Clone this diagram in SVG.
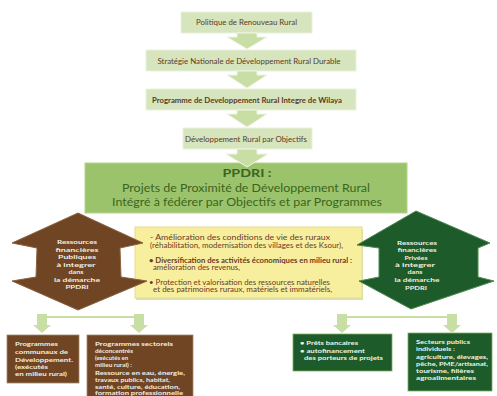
<svg xmlns="http://www.w3.org/2000/svg" width="497" height="396" viewBox="0 0 497 396">
<defs>
<style>
text{font-family:Lato,"Liberation Sans",sans-serif}
.tb{fill:#d6e5bd;stroke:#e9f1dc;stroke-width:1}
.tt{font-size:7.5px;fill:#5b3a1e;text-anchor:middle}
.arr{fill:#c8dea5;stroke:#eef5e4;stroke-width:1}
.br{fill:#c8dea5;stroke:none}
.ln{stroke:#c8dea5;stroke-width:2;fill:none}
.pp{font-size:11.5px;fill:#3b6520;text-anchor:middle}
.yt{font-size:6.8px;fill:#6b3a1f}
.st{font-size:6.4px;font-weight:bold;fill:#f4ede2;text-anchor:middle}
.bt{font-size:6.3px;font-weight:bold;fill:#f4ede2}
.gt{font-size:6.3px;font-weight:bold;fill:#eef6e8}
</style>
</defs>
<rect width="497" height="396" fill="#ffffff"/>

<g id="box1">
<rect class="tb" x="181" y="12" width="131" height="21"/>
<text class="tt" x="246.5" y="25" textLength="101" lengthAdjust="spacingAndGlyphs">Politique de Renouveau Rural</text>
</g>
<g id="box2">
<rect class="tb" x="146" y="50" width="210" height="21"/>
<text class="tt" x="249" y="64" textLength="183" lengthAdjust="spacingAndGlyphs">Stratégie Nationale de Développement Rural Durable</text>
</g>
<g id="box3">
<rect class="tb" x="146" y="89" width="210" height="21"/>
<text class="tt" x="247" y="103" font-weight="bold" textLength="190" lengthAdjust="spacingAndGlyphs">Programme de Developpement Rural Integre de Wilaya</text>
</g>
<g id="box4">
<rect class="tb" x="183" y="128" width="129" height="21"/>
<text class="tt" x="246" y="142" textLength="122" lengthAdjust="spacingAndGlyphs">Développement Rural par Objectifs</text>
</g>

<g id="ppdri">
<rect x="85" y="163" width="322" height="50" fill="#9bc36b" stroke="#b3d38c" stroke-width="1"/>
<text class="pp" x="247" y="177" font-weight="bold" fill="#2c5218" textLength="49" lengthAdjust="spacingAndGlyphs">PPDRI :</text>
<text class="pp" x="246" y="192" textLength="248" lengthAdjust="spacingAndGlyphs">Projets de Proximité de Développement Rural</text>
<text class="pp" x="247" y="206" textLength="270" lengthAdjust="spacingAndGlyphs">Intégré à fédérer par Objectifs et par Programmes</text>
</g>

<g id="objectifs">
<rect x="136" y="229" width="227" height="71" fill="#d3e3bd"/>
<rect x="135" y="227" width="227" height="71" fill="#f8ef9e" stroke="#e6dc8a" stroke-width="1"/>
<text class="yt" x="150" y="240" textLength="180" lengthAdjust="spacingAndGlyphs">- Amélioration des conditions de vie des ruraux</text>
<text class="yt" x="150" y="248" textLength="193" lengthAdjust="spacingAndGlyphs">(réhabilitation, modernisation des villages et des Ksour),</text>
<text class="yt" x="149" y="263" font-weight="bold" textLength="203" lengthAdjust="spacingAndGlyphs">• Diversification des activités économiques en milieu rural :</text>
<text class="yt" x="153" y="270" textLength="87" lengthAdjust="spacingAndGlyphs">amélioration des revenus,</text>
<text class="yt" x="149" y="285" textLength="181" lengthAdjust="spacingAndGlyphs">• Protection et valorisation des ressources naturelles</text>
<text class="yt" x="153" y="292" textLength="179" lengthAdjust="spacingAndGlyphs">et des patrimoines ruraux, matériels et immatériels,</text>
</g>

<g id="ressources-publiques">
<polygon points="78,213 143,243 120,248 121,277 147,281 78,310 12,281 36,277 37,248 12,243" fill="#6f4524" stroke="#8a6240" stroke-width="1" stroke-linejoin="round"/>
<text class="st" x="77" y="244" textLength="40" lengthAdjust="spacingAndGlyphs">Ressources</text>
<text class="st" x="77" y="251.5" textLength="43" lengthAdjust="spacingAndGlyphs">financières</text>
<text class="st" x="77" y="259" fill="#b6d98c" textLength="38" lengthAdjust="spacingAndGlyphs">Publiques</text>
<text class="st" x="76" y="266.5" textLength="39" lengthAdjust="spacingAndGlyphs">à integrer</text>
<text class="st" x="76" y="273.5" font-size="5px" textLength="15" lengthAdjust="spacingAndGlyphs">dans</text>
<text class="st" x="77" y="281.5" textLength="46" lengthAdjust="spacingAndGlyphs">la démarche</text>
<text class="st" x="77" y="289" textLength="23" lengthAdjust="spacingAndGlyphs">PPDRI</text>
</g>

<g id="ressources-privees">
<polygon points="416,211 490,243 478,248 478,277 494,281 411,309 359,281 379,277 379,248 357,245" fill="#1d5b2a" stroke="#4f8a4f" stroke-width="1" stroke-linejoin="round"/>
<text class="st" x="417" y="244.5" textLength="40" lengthAdjust="spacingAndGlyphs">Ressources</text>
<text class="st" x="417" y="252" textLength="39" lengthAdjust="spacingAndGlyphs">financières</text>
<text class="st" x="416" y="259.5" fill="#dcefcf" textLength="23" lengthAdjust="spacingAndGlyphs">Privées</text>
<text class="st" x="415" y="267" textLength="40" lengthAdjust="spacingAndGlyphs">à integrer</text>
<text class="st" x="415" y="274" font-size="5px" textLength="15" lengthAdjust="spacingAndGlyphs">dans</text>
<text class="st" x="417" y="282" textLength="45" lengthAdjust="spacingAndGlyphs">la démarche</text>
<text class="st" x="416" y="289.5" textLength="22" lengthAdjust="spacingAndGlyphs">PPDRI</text>
</g>

<g id="programmes-communaux">
<rect x="7" y="335" width="72" height="48" fill="#6f4524" stroke="#a6876a" stroke-width="0.8"/>
<text class="bt" x="15" y="346" textLength="43" lengthAdjust="spacingAndGlyphs">Programmes</text>
<text class="bt" x="15" y="354" textLength="53" lengthAdjust="spacingAndGlyphs">communaux de</text>
<text class="bt" x="15" y="362" textLength="58" lengthAdjust="spacingAndGlyphs">Développement.</text>
<text class="bt" x="15" y="369" textLength="33" lengthAdjust="spacingAndGlyphs">(exécutés</text>
<text class="bt" x="15" y="376" textLength="52" lengthAdjust="spacingAndGlyphs">en milieu rural)</text>
</g>

<g id="programmes-sectorels">
<rect x="87" y="335" width="106" height="63" fill="#6f4524" stroke="#a6876a" stroke-width="0.8"/>
<text class="bt" x="95" y="346" textLength="78" lengthAdjust="spacingAndGlyphs">Programmes sectorels</text>
<text class="bt" x="95" y="353" textLength="38" lengthAdjust="spacingAndGlyphs">déconcentrés</text>
<text class="bt" x="95" y="360" textLength="33" lengthAdjust="spacingAndGlyphs">(exécutés en</text>
<text class="bt" x="95" y="367" textLength="37" lengthAdjust="spacingAndGlyphs">milieu rural) :</text>
<text class="bt" x="95" y="374.5" textLength="90" lengthAdjust="spacingAndGlyphs">Ressource en eau, énergie,</text>
<text class="bt" x="95" y="381.5" textLength="75" lengthAdjust="spacingAndGlyphs">travaux publics, habitat,</text>
<text class="bt" x="95" y="388.5" textLength="85" lengthAdjust="spacingAndGlyphs">santé, culture, éducation,</text>
<text class="bt" x="95" y="395" textLength="88" lengthAdjust="spacingAndGlyphs">formation professionnelle</text>
</g>

<g id="prets-bancaires">
<rect x="293" y="334" width="99" height="37" fill="#1d5b2a" stroke="#7fb062" stroke-width="0.8"/>
<text class="gt" x="300" y="345" textLength="58" lengthAdjust="spacingAndGlyphs">• Prêts bancaires</text>
<text class="gt" x="300" y="353" textLength="65" lengthAdjust="spacingAndGlyphs">• autofinancement</text>
<text class="gt" x="304" y="360" textLength="79" lengthAdjust="spacingAndGlyphs">des porteurs de projets</text>
</g>

<g id="secteurs-publics">
<rect x="408" y="333" width="84" height="58" fill="#1d5b2a" stroke="#7fb062" stroke-width="0.8"/>
<text class="gt" x="416" y="344" textLength="54" lengthAdjust="spacingAndGlyphs">Secteurs publics</text>
<text class="gt" x="416" y="351" textLength="39" lengthAdjust="spacingAndGlyphs">individuels :</text>
<text class="gt" x="416" y="359" textLength="72" lengthAdjust="spacingAndGlyphs">agriculture, élevages,</text>
<text class="gt" x="416" y="366" textLength="72" lengthAdjust="spacingAndGlyphs">pêche, PME/artisanat,</text>
<text class="gt" x="416" y="373" textLength="58" lengthAdjust="spacingAndGlyphs">tourisme, filières</text>
<text class="gt" x="416" y="380" textLength="60" lengthAdjust="spacingAndGlyphs">agroalimentaires</text>
</g>

<g id="connectors">
<path class="arr" d="M237,33 H257 V37 H267 L247,49 L227,37 H237 Z"/>
<path class="arr" d="M237,71 H257 V75 H267 L247,88 L227,75 H237 Z"/>
<path class="arr" d="M237,110 H257 V114 H267 L247,127 L227,114 H237 Z"/>
<path class="arr" d="M237,149 H257 V154 H268 L247,167 L226,154 H237 Z"/>
<line class="ln" x1="42" y1="317" x2="139" y2="317"/>
<path class="br" d="M37,314 H47 V325 H51 L42,333 L33,325 H37 Z"/>
<path class="br" d="M134,314 H144 V325 H148 L139,333 L130,325 H134 Z"/>
<line class="ln" x1="342" y1="317" x2="452" y2="317"/>
<path class="br" d="M337,314 H347 V325 H351 L342,333 L333,325 H337 Z"/>
<path class="br" d="M447,314 H457 V325 H461 L452,333 L443,325 H447 Z"/>
</g>
</svg>
